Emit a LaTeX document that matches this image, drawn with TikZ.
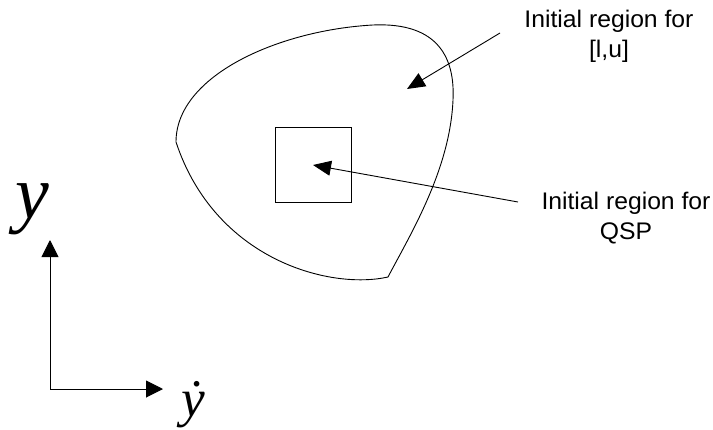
\documentclass[tikz,border=0pt]{standalone}
\usepackage{fontspec}
\setmainfont{Liberation Sans}
\newfontfamily\axisfont[Scale=1]{Liberation Serif}
\usetikzlibrary{arrows.meta, positioning}

\tikzset{
  pointer/.style={-{Triangle[length=18pt, width=15pt]}, line width=0.9pt},
  axisline/.style={-{Triangle[length=17pt, width=17pt]}, line width=1pt},
  regionlabel/.style={align=center, inner sep=0pt, xscale=1.03, transform shape,
    font=\fontsize{24}{30}\selectfont},
  axislabel/.style={inner sep=0pt, font=\axisfont\itshape}
}

\begin{document}
\begin{tikzpicture}[x=1pt, y=-1pt]
\useasboundingbox (0,0) rectangle (713,429);

% region for [l,u]
\draw[line width=0.9pt] (176,142) .. controls (176,75) and (280,30) .. (373,25)
  .. controls (440,22) and (455,60) .. (453,100)
  .. controls (450,170) and (410,235) .. (388,277)
  .. controls (330,290) and (215,260) .. (176,142) -- cycle;

% region for QSP
\draw[line width=0.9pt] (275,127) rectangle (351,202);

% labels
\node[regionlabel] (lu) at (609,36) {Initial region for\\{[l,u]}};
\node[regionlabel] (qsp) at (626,218) {Initial region for\\QSP};

\coordinate (lustart) at (500,33);
\coordinate (lutip) at (407,89);
\coordinate (qspstart) at (518,202);
\coordinate (qsptip) at (313,165);
\draw[pointer] (lustart) -- (lutip);
\draw[pointer] (qspstart) -- (qsptip);

% axes
\coordinate (origin) at (50,389);
\coordinate (yend) at (50,240);
\coordinate (xend) at (163,389);
\draw[axisline] (origin) -- (yend);
\draw[axisline] (origin) -- (xend);
\node[axislabel, anchor=base west, font=\axisfont\itshape\fontsize{76}{76}\selectfont] (ylab) at (15,218) {y};
\node[axislabel, anchor=base west, font=\axisfont\itshape\fontsize{53}{53}\selectfont] (ydotlab) at (181,416) {ẏ};
\end{tikzpicture}
\end{document}
